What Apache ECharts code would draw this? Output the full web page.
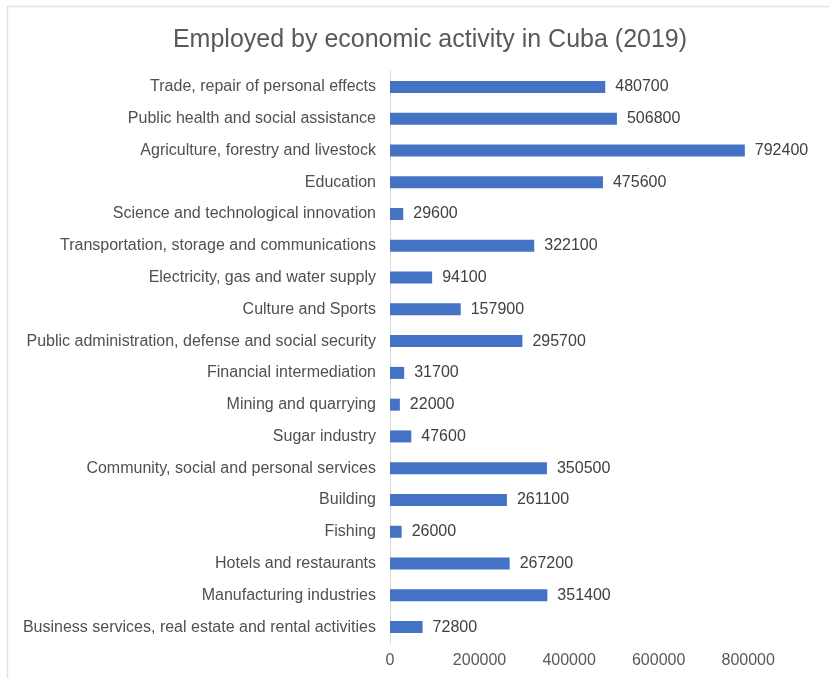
<!DOCTYPE html>
<html style="height: 100%">
<head>
    <meta charset="utf-8">
</head>
<body style="height: 100%; margin: 0; background: #fff">
    <div id="container" style="width: 829px; height: 678px;"></div>
    <script type="text/javascript" src="https://cdn.jsdelivr.net/npm/echarts@6/dist/echarts.min.js"></script>
    <script type="text/javascript">
var activities = [
    'Trade, repair of personal effects',
    'Public health and social assistance',
    'Agriculture, forestry and livestock',
    'Education',
    'Science and technological innovation',
    'Transportation, storage and communications',
    'Electricity, gas and water supply',
    'Culture and Sports',
    'Public administration, defense and social security',
    'Financial intermediation',
    'Mining and quarrying',
    'Sugar industry',
    'Community, social and personal services',
    'Building',
    'Fishing',
    'Hotels and restaurants',
    'Manufacturing industries',
    'Business services, real estate and rental activities'
];
var employed = [480700, 506800, 792400, 475600, 29600, 322100, 94100, 157900,
    295700, 31700, 22000, 47600, 350500, 261100, 26000, 267200, 351400, 72800];

var dom = document.getElementById('container');
var myChart = echarts.init(dom);
var font = 'Liberation Sans, Arial, sans-serif';

var option = {
    animation: false,
    backgroundColor: '#fff',
    title: {
        text: 'Employed by economic activity in Cuba (2019)',
        left: 425,
        top: 23,
        textAlign: 'center',
        textStyle: { fontFamily: font, fontSize: 25, fontWeight: 'normal', color: '#595959' }
    },
    graphic: [{
        type: 'rect',
        shape: { x: 7.5, y: 6.5, width: 840, height: 690 },
        style: { fill: 'none', stroke: '#e3e3e3', lineWidth: 1.5 },
        silent: true
    }],
    grid: { left: 390, right: 36, top: 71, bottom: 35, containLabel: false },
    xAxis: {
        type: 'value',
        min: 0,
        max: 900000,
        interval: 200000,
        splitLine: { show: false },
        axisLine: { show: false },
        axisTick: { show: false },
        axisLabel: {
            showMaxLabel: false,
            margin: 10,
            formatter: function (v) { return String(v); },
            fontFamily: font, fontSize: 16, color: '#595959'
        }
    },
    yAxis: {
        type: 'category',
        inverse: true,
        data: activities,
        axisLine: { show: true, lineStyle: { color: '#d9d9d9', width: 1 } },
        axisTick: { show: false },
        axisLabel: { margin: 14, fontFamily: font, fontSize: 16, color: '#505050' }
    },
    series: [{
        type: 'bar',
        data: employed,
        barWidth: 12,
        itemStyle: { color: '#4472C4' },
        label: {
            show: true,
            position: 'right',
            distance: 10,
            fontFamily: font, fontSize: 16, color: '#404040'
        }
    }]
};
myChart.setOption(option);
    </script>
</body>
</html>
